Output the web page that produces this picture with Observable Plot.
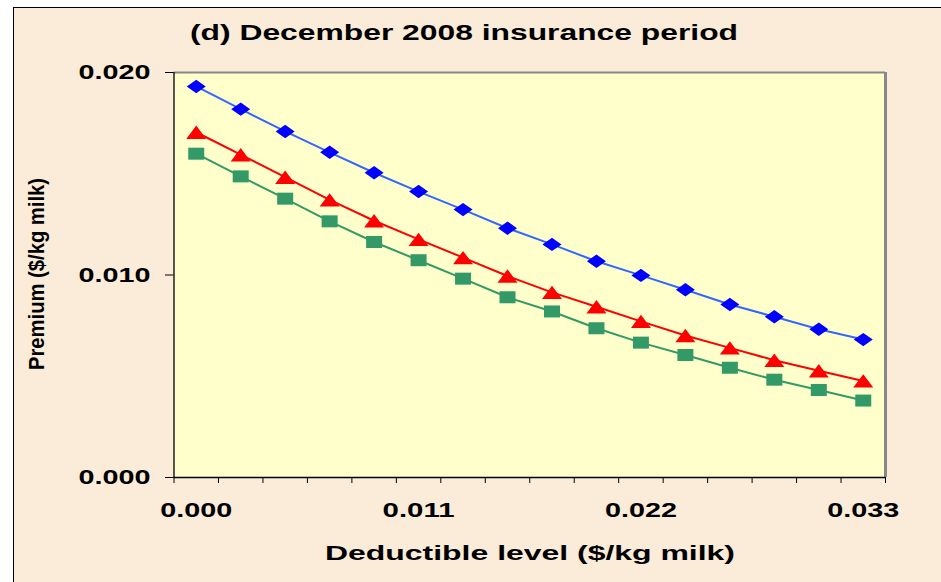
<!DOCTYPE html>
<html><head><meta charset="utf-8">
<script src="https://cdn.jsdelivr.net/npm/d3@7"></script>
<script src="https://cdn.jsdelivr.net/npm/@observablehq/plot@0.6"></script>
<style>
html,body{margin:0;padding:0;width:941px;height:582px;overflow:hidden;background:#fff;}
#bg{position:absolute;left:13px;top:7px;width:1000px;height:700px;border-left:1px solid #000;border-top:1px solid #000;background:#FAECD8;}
#chart{position:absolute;left:0;top:0;}
#labels{position:absolute;left:0;top:0;}
text{font-family:"Liberation Sans",Arial,sans-serif;}
#chart text{font-weight:bold;}
</style></head><body>
<div id="bg"></div><div id="chart"></div><svg id="labels" width="941" height="582"></svg>
<script>
// Deductible levels ($/kg milk) – 16 categories
const deductibles = [0, 0.0022, 0.0044, 0.0066, 0.0088, 0.011, 0.0132, 0.0154, 0.0176, 0.0198, 0.022, 0.0242, 0.0264, 0.0286, 0.0308, 0.033];
const xTickLabels = [0, 0.011, 0.022, 0.033];
const yTicks = [0, 0.01, 0.02];
const seriesNames = ["Series 1", "Series 2", "Series 3"];
const seriesBlue  = [0.01931, 0.01819, 0.01709, 0.01606, 0.01505, 0.01412, 0.01323, 0.01231, 0.01151, 0.01068, 0.00998, 0.00927, 0.00854, 0.00794, 0.00732, 0.00681];
const seriesRed   = [0.01705, 0.01594, 0.01483, 0.01371, 0.01268, 0.01176, 0.01086, 0.00995, 0.00914, 0.00843, 0.00771, 0.00701, 0.00640, 0.00579, 0.00527, 0.00477];
const seriesGreen = [0.01599, 0.01487, 0.01377, 0.01265, 0.01163, 0.01073, 0.00982, 0.00890, 0.00820, 0.00737, 0.00666, 0.00605, 0.00542, 0.00483, 0.00432, 0.00380];
const seriesValues = [seriesBlue, seriesRed, seriesGreen];
const lineColors = ["#3366FF", "#FF0000", "#339966"];
const markerColors = ["#0000FF", "#FF0000", "#339966"];

const titleText = "(d) December 2008 insurance period";
const xLabelText = "Deductible level ($/kg milk)";
const yLabelText = "Premium ($/kg milk)";

// custom Excel-like marker shapes
const diamond = {draw(c){c.moveTo(0,-6.7);c.lineTo(9.5,0);c.lineTo(0,6.7);c.lineTo(-9.5,0);c.closePath();}};
const triangle = {draw(c){c.moveTo(0,-6.7);c.lineTo(10,6.7);c.lineTo(-10,6.7);c.closePath();}};
const square = {draw(c){c.rect(-8,-6,16,12);}};
const symbols = [diamond, triangle, square];

const step = deductibles[1] - deductibles[0];
const boundaries = deductibles.map(d => d - step / 2).concat([deductibles[deductibles.length - 1] + step / 2]);
const xDomain = [boundaries[0], boundaries[boundaries.length - 1]];

const marks = [
  Plot.frame({fill: "#FFFFCC"}),
  Plot.ruleY([yTicks[2]], {stroke: "#888", strokeWidth: 2}),
  Plot.ruleX([xDomain[1]], {stroke: "#888", strokeWidth: 3}),
  Plot.ruleX([xDomain[0]], {stroke: "#000", strokeWidth: 1.3}),
  Plot.ruleY([0], {stroke: "#000", strokeWidth: 1.3}),
  Plot.axisY({ticks: yTicks, tickFormat: d3.format(".3f"), tickSize: 8.5, tickPadding: 15, fontSize: 21, fontWeight: "bold", label: null, color: "#000"}),
  Plot.axisX({ticks: boundaries, tickSize: 6, fill: "none", label: null, stroke: "#000"}),
  Plot.axisX({ticks: xTickLabels, tickSize: 0, tickPadding: 25, tickFormat: d3.format(".3f"), fontSize: 21, fontWeight: "bold", label: null, color: "#000"})
];
seriesValues.forEach((vals, k) => {
  marks.push(Plot.line(deductibles, {x: d => d, y: (d, i) => vals[i], stroke: lineColors[k], strokeWidth: 2}));
});
seriesValues.forEach((vals, k) => {
  marks.push(Plot.dot(deductibles, {x: d => d, y: (d, i) => vals[i], symbol: symbols[k], fill: markerColors[k], stroke: "none", r: 5}));
});

const plot = Plot.plot({
  width: 941, height: 582,
  marginLeft: 173.5, marginRight: 56, marginTop: 72, marginBottom: 105,
  x: {domain: xDomain},
  y: {domain: [0, 0.02]},
  style: {background: "transparent", fontFamily: "Liberation Sans, Arial, sans-serif", overflow: "visible", color: "#000"},
  marks
});
document.getElementById("chart").appendChild(plot);

plot.querySelectorAll('g[aria-label="y-axis tick label"] text, g[aria-label="x-axis tick label"] text').forEach(t => {
  t.setAttribute("textLength", 72);
  t.setAttribute("lengthAdjust", "spacingAndGlyphs");
});

const lab = d3.select("#labels");
lab.append("text").attr("x", 464).attr("y", 39.5).attr("text-anchor", "middle")
  .attr("font-size", 22).attr("font-weight", "bold").attr("textLength", 548).attr("lengthAdjust", "spacingAndGlyphs").text(titleText);
lab.append("text").attr("x", 530).attr("y", 560).attr("text-anchor", "middle")
  .attr("font-size", 20).attr("font-weight", "bold").attr("textLength", 410).attr("lengthAdjust", "spacingAndGlyphs").text(xLabelText);
lab.append("text").attr("transform", "translate(44.3,274) rotate(-90)").attr("text-anchor", "middle")
  .attr("font-size", 22).attr("font-weight", "bold").attr("textLength", 192).attr("lengthAdjust", "spacingAndGlyphs").text(yLabelText);
</script>
</body></html>
